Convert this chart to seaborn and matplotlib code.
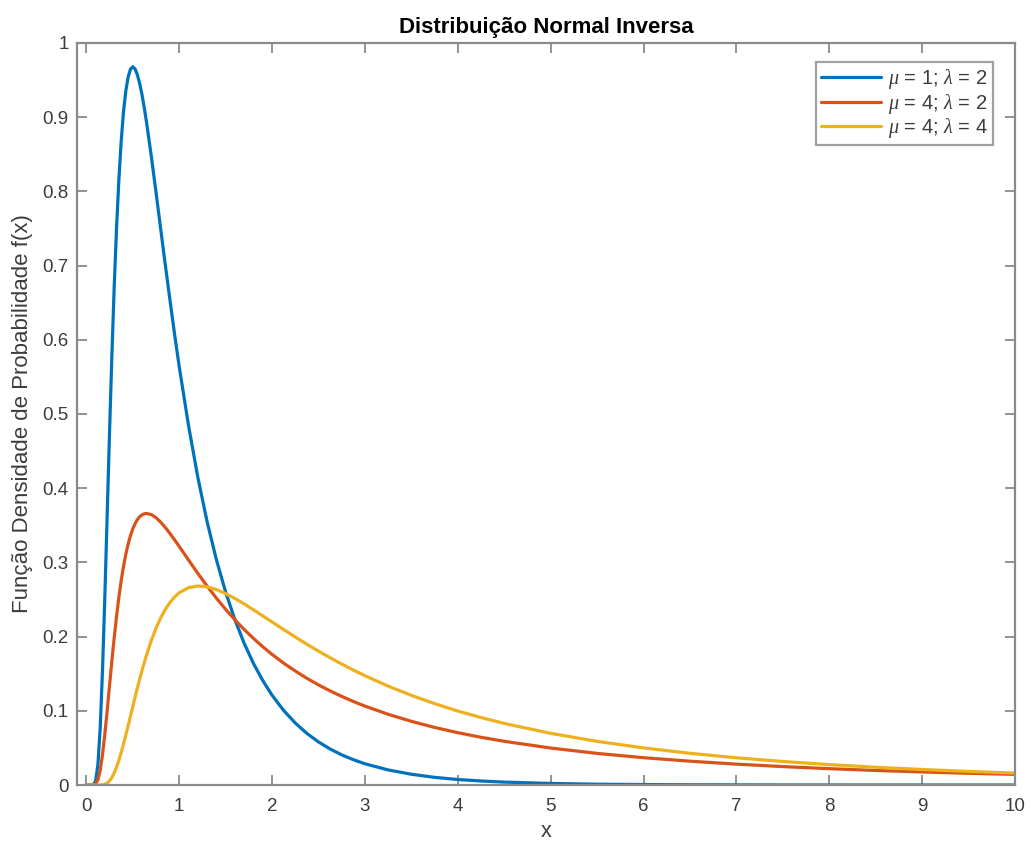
import matplotlib
matplotlib.use("Agg")
import matplotlib.pyplot as plt
import seaborn as sns
import pandas as pd

# x positions
x_vals = [0, 0.05, 0.075, 0.1, 0.125, 0.15, 0.175, 0.2, 0.225, 0.25, 0.275, 0.3,
          0.325, 0.35, 0.375, 0.4, 0.425, 0.45, 0.475, 0.5, 0.525, 0.55, 0.575, 0.6,
          0.625, 0.65, 0.7, 0.75, 0.8, 0.85, 0.9, 0.95, 1.0, 1.1, 1.2, 1.3, 1.4,
          1.5, 1.6, 1.7, 1.8, 1.9, 2.0, 2.125, 2.25, 2.375, 2.5, 2.625, 2.75, 2.875,
          3.0, 3.25, 3.5, 3.75, 4.0, 4.25, 4.5, 5.0, 5.5, 6.0, 6.5, 7.0, 7.5, 8.0,
          8.5, 9.0, 9.5, 10.0]

# mu = 1, lambda = 2
serie_a = [0, 0, 0.0003, 0.0054, 0.0279, 0.0786, 0.1577, 0.257, 0.3663, 0.476, 0.5784,
           0.671, 0.7495, 0.815, 0.867, 0.907, 0.9354, 0.954, 0.9647, 0.968, 0.965,
           0.957, 0.9451, 0.930, 0.9118, 0.8916, 0.847, 0.7992, 0.750, 0.7012, 0.654,
           0.6077, 0.564, 0.4847, 0.415, 0.3552, 0.3038, 0.260, 0.2226, 0.1908, 0.1637,
           0.1407, 0.121, 0.1004, 0.0835, 0.0695, 0.058, 0.0485, 0.0406, 0.0341,
           0.0286, 0.0203, 0.0145, 0.0103, 0.0074, 0.0054, 0.0039, 0.0021, 0.0011,
           0.0006, 0.0003, 0.0002, 0.0001, 0.00005, 0.00003, 0.00002, 0.00001, 0.0]

# mu = 4, lambda = 2
serie_b = [0, 0, 0.00007, 0.0013, 0.0070, 0.0202, 0.0415, 0.0693, 0.1009, 0.1342,
           0.1671, 0.1982, 0.2268, 0.2526, 0.2749, 0.2943, 0.3109, 0.3247, 0.3360,
           0.3452, 0.3523, 0.3577, 0.3616, 0.3641, 0.3656, 0.3659, 0.3644, 0.3603,
           0.3543, 0.3471, 0.3391, 0.3304, 0.3215, 0.3033, 0.2853, 0.2682, 0.2519,
           0.2367, 0.2226, 0.2095, 0.1975, 0.1863, 0.1760, 0.1642, 0.1536, 0.1438,
           0.1349, 0.1268, 0.1194, 0.1126, 0.1063, 0.0953, 0.0858, 0.0776, 0.0705,
           0.0643, 0.0589, 0.0498, 0.0426, 0.0368, 0.0321, 0.0281, 0.0248, 0.0220,
           0.0196, 0.0176, 0.0158, 0.0143]

# mu = 4, lambda = 4
serie_c = [0, 0, 0, 0, 0, 0.00006, 0.0003, 0.0011, 0.0027, 0.0056, 0.0101, 0.0162,
           0.0239, 0.0331, 0.0435, 0.0550, 0.0671, 0.0798, 0.0926, 0.1055, 0.1183,
           0.1308, 0.1429, 0.1545, 0.1655, 0.1759, 0.1948, 0.2112, 0.2251, 0.2367,
           0.2460, 0.2534, 0.2591, 0.2659, 0.2682, 0.2671, 0.2634, 0.2580, 0.2514,
           0.2440, 0.2361, 0.2279, 0.2197, 0.2095, 0.1994, 0.1897, 0.1804, 0.1715,
           0.1630, 0.1549, 0.1473, 0.1333, 0.1208, 0.1097, 0.0997, 0.0909, 0.0830,
           0.0696, 0.0588, 0.0500, 0.0427, 0.0367, 0.0317, 0.0275, 0.0239, 0.0209,
           0.0183, 0.0161]

labels = [r"$\mu$ = 1; $\lambda$ = 2", r"$\mu$ = 4; $\lambda$ = 2", r"$\mu$ = 4; $\lambda$ = 4"]
colors = ["#0072BD", "#D95319", "#EDB120"]
x_ticks = list(range(0, 11))
y_ticks = [0, 0.1, 0.2, 0.3, 0.4, 0.5, 0.6, 0.7, 0.8, 0.9, 1.0]
y_tick_labels = ["0", "0.1", "0.2", "0.3", "0.4", "0.5", "0.6", "0.7", "0.8", "0.9", "1"]

sns.set_theme(style="white")
plt.rcParams["font.family"] = ["Liberation Sans", "DejaVu Sans"]
plt.rcParams["mathtext.fontset"] = "custom"
plt.rcParams["mathtext.it"] = "Liberation Serif:italic"
plt.rcParams["mathtext.rm"] = "Liberation Sans"

fig = plt.figure(figsize=(10.30, 8.43), dpi=100)
ax = fig.add_axes([0.0748, 0.0688, 0.9107, 0.8802])

frames = []
for lab, ys in zip(labels, [serie_a, serie_b, serie_c]):
    frames.append(pd.DataFrame({"x": x_vals, "y": ys, "serie": lab}))
df = pd.concat(frames, ignore_index=True)

sns.lineplot(data=df, x="x", y="y", hue="serie", palette=colors, linewidth=2.3,
             ax=ax, sort=False, estimator=None)
for ln in ax.get_lines():
    ln.set_solid_joinstyle("round")
    ln.set_solid_capstyle("round")

ax.set_xlim(-0.1, 10)
ax.set_ylim(0, 1)
ax.set_xticks(x_ticks)
ax.set_xticklabels([str(t) for t in x_ticks])
ax.set_yticks(y_ticks)
ax.set_yticklabels(y_tick_labels)

edge = "#8a8a8a"
text_col = "#3c3c3c"
for sp in ax.spines.values():
    sp.set_visible(True)
    sp.set_color(edge)
    sp.set_linewidth(1.6)
ax.tick_params(axis="both", which="both", direction="in", length=7, width=1.3,
               colors=edge, labelcolor=text_col, labelsize=13.5,
               top=True, right=True, bottom=True, left=True)
ax.tick_params(axis="x", pad=9)
ax.tick_params(axis="y", pad=6)

ax.set_title("Distribuição Normal Inversa", fontsize=16, fontweight="bold",
             color="black", pad=7)
ax.set_xlabel("x", fontsize=15.5, color=text_col, labelpad=5)
ax.set_ylabel("Função Densidade de Probabilidade f(x)", fontsize=16, color=text_col,
              labelpad=7)

leg = ax.legend(loc="upper right", bbox_to_anchor=(0.9765, 0.974), borderaxespad=0,
                frameon=True, fancybox=False, fontsize=14.5, handlelength=3.0,
                handletextpad=0.35, borderpad=0.25, labelspacing=0.02, title=None)
leg.get_frame().set_edgecolor(edge)
leg.get_frame().set_linewidth(1.6)
for t in leg.get_texts():
    t.set_color(text_col)

fig.savefig("out.png", dpi=100, facecolor="white")
